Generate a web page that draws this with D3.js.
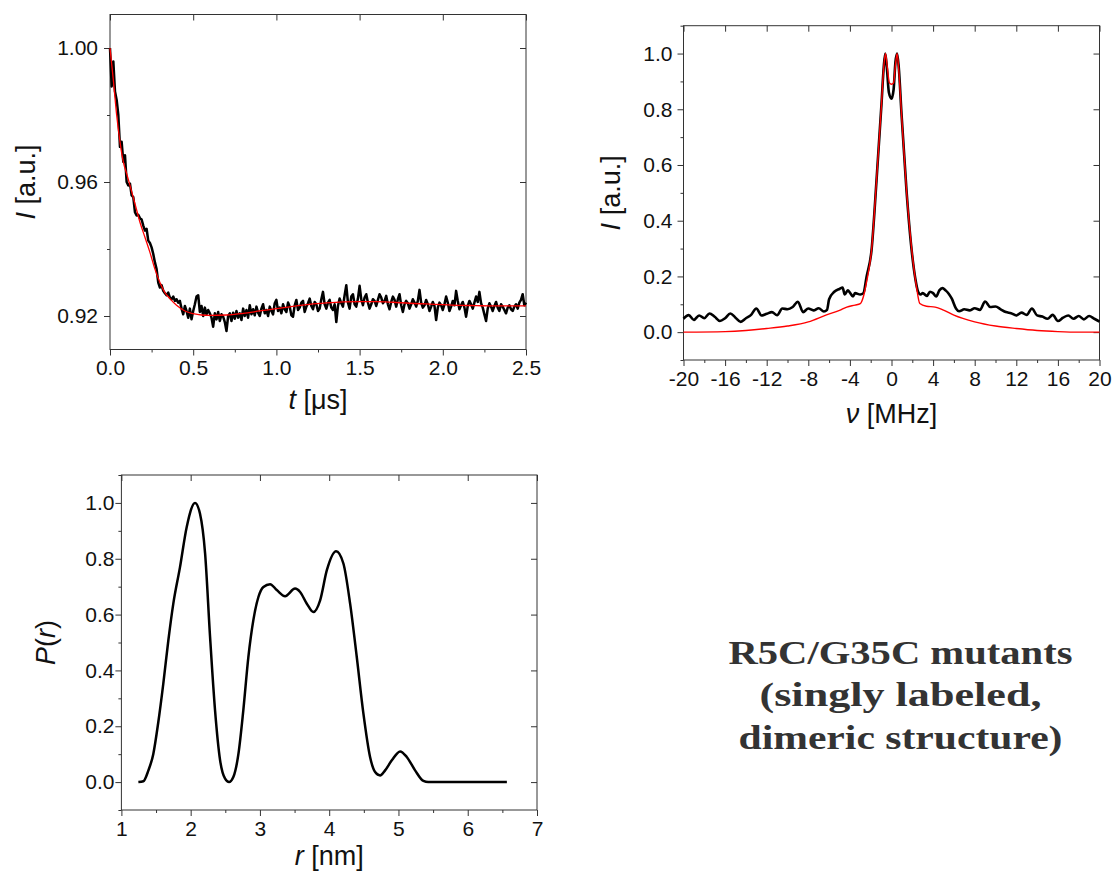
<!DOCTYPE html>
<html>
<head>
<meta charset="utf-8">
<script src="https://cdn.jsdelivr.net/npm/d3@7"></script>
<style>
  body { margin: 0; background: #fff; }
  svg { display: block; font-family: "Liberation Sans", Arial, sans-serif; }
</style>
</head>
<body>
<svg id="chart" width="1115" height="873"></svg>
<script>
// ---- time trace (DEER decay), sampled every 0.01 us from t = 0 ----
const decayStep = 0.01;
const decaySignal = [
  1.0000, 0.9885, 0.9960, 0.9870, 0.9845, 0.9800, 0.9705, 0.9720, 0.9660, 0.9680,
  0.9600, 0.9590, 0.9595, 0.9560, 0.9555, 0.9510, 0.9500, 0.9502, 0.9492, 0.9488,
  0.9470, 0.9455, 0.9460, 0.9425, 0.9418, 0.9405, 0.9385, 0.9360, 0.9340, 0.9300,
  0.9285, 0.9292, 0.9275, 0.9268, 0.9262, 0.9270, 0.9255, 0.9250, 0.9258, 0.9245,
  0.9250, 0.9240, 0.9245, 0.9222, 0.9205, 0.9230, 0.9215, 0.9195, 0.9222, 0.9190,
  0.9215,
  0.9235, 0.9258, 0.9262, 0.9212, 0.9230, 0.9200, 0.9225, 0.9205, 0.9218, 0.9208,
  0.9195, 0.9168, 0.9208, 0.9190, 0.9212, 0.9185, 0.9205, 0.9198, 0.9182, 0.9155,
  0.9200, 0.9208, 0.9185, 0.9210, 0.9192, 0.9215, 0.9195, 0.9208, 0.9188, 0.9222,
  0.9200, 0.9218, 0.9195, 0.9232, 0.9205, 0.9220, 0.9202, 0.9228, 0.9210, 0.9200,
  0.9222, 0.9235, 0.9208, 0.9218, 0.9200, 0.9228, 0.9215, 0.9205, 0.9238, 0.9248,
  0.9215, 0.9225, 0.9208, 0.9235, 0.9220, 0.9212, 0.9240, 0.9228, 0.9202, 0.9198,
  0.9232, 0.9248, 0.9218, 0.9225, 0.9240, 0.9245, 0.9212, 0.9228, 0.9238, 0.9252,
  0.9230, 0.9220, 0.9242, 0.9235, 0.9215, 0.9222, 0.9250, 0.9272, 0.9235, 0.9222,
  0.9240, 0.9248, 0.9225, 0.9218, 0.9235, 0.9182, 0.9230, 0.9252, 0.9238, 0.9228,
  0.9262, 0.9292, 0.9240, 0.9222, 0.9258, 0.9265, 0.9235, 0.9228, 0.9252, 0.9290,
  0.9250, 0.9232, 0.9255, 0.9265, 0.9240, 0.9222, 0.9235, 0.9250, 0.9245, 0.9230,
  0.9248, 0.9265, 0.9255, 0.9238, 0.9245, 0.9260, 0.9235, 0.9220, 0.9242, 0.9258,
  0.9248, 0.9228, 0.9250, 0.9265, 0.9232, 0.9212, 0.9235, 0.9245, 0.9238, 0.9222,
  0.9235, 0.9250, 0.9240, 0.9228, 0.9245, 0.9278, 0.9240, 0.9225, 0.9232, 0.9248,
  0.9235, 0.9215, 0.9228, 0.9242, 0.9230, 0.9188, 0.9225, 0.9240, 0.9232, 0.9218,
  0.9235, 0.9258, 0.9240, 0.9215, 0.9228, 0.9245, 0.9232, 0.9275, 0.9245, 0.9220,
  0.9232, 0.9242, 0.9225, 0.9198, 0.9230, 0.9245, 0.9235, 0.9222, 0.9240, 0.9258,
  0.9242, 0.9272, 0.9238, 0.9225, 0.9205, 0.9185, 0.9222, 0.9238, 0.9228, 0.9215,
  0.9230, 0.9242, 0.9225, 0.9215, 0.9235, 0.9228, 0.9218, 0.9208, 0.9225, 0.9232,
  0.9220, 0.9215, 0.9228, 0.9235, 0.9222, 0.9240, 0.9248, 0.9265, 0.9232, 0.9240
];
const decayFitT = [0, 0.02, 0.04, 0.06, 0.08, 0.10, 0.12, 0.15, 0.18, 0.21, 0.24, 0.27, 0.30, 0.33, 0.36, 0.40,
  0.45, 0.50, 0.55, 0.60, 0.70, 0.80, 0.90, 1.00, 1.10, 1.20, 1.30, 1.40, 1.50, 1.60, 1.70, 1.80,
  1.90, 2.00, 2.10, 2.20, 2.30, 2.40, 2.50];
const decayFitI = [1.000, 0.9905, 0.980, 0.972, 0.966, 0.9625, 0.959, 0.9535, 0.948, 0.9435, 0.939, 0.934,
  0.930, 0.927, 0.9252, 0.9232, 0.9215, 0.9207, 0.9203, 0.9202, 0.9203, 0.9208, 0.9215, 0.9222,
  0.9229, 0.9235, 0.9239, 0.9242, 0.9243, 0.9243, 0.9241, 0.9238, 0.9236, 0.9234, 0.9232, 0.9231,
  0.9230, 0.9230, 0.9230];

// ---- frequency spectrum ----
const specNu = [-20, -19.5, -19, -18.5, -18, -17.5, -17, -16.5, -16, -15.5, -15, -14.5, -14, -13.5, -13,
  -12.5, -12, -11.5, -11, -10.5, -10, -9.5, -9, -8.5, -8, -7.5, -7, -6.5, -6.2, -6, -5.5, -5, -4.7,
  -4.5, -4.2, -4, -3.7, -3.5, -3, -2.7, -2.4, -1.92, -1.44, -0.96, -0.75, -0.6, -0.45, -0.25, 0,
  0.2, 0.38, 0.54, 0.7, 0.96, 1.44, 1.92, 2.3, 2.56, 2.8, 3, 3.4, 3.7, 4, 4.3, 4.6, 4.9, 5.2, 5.5,
  5.8, 6.2, 6.5, 7, 7.5, 8, 8.5, 9, 9.5, 10, 10.5, 11, 11.5, 12, 12.5, 13, 13.5, 14, 14.5, 15,
  15.5, 16, 16.5, 17, 17.5, 18, 18.5, 19, 19.5, 20];
const specI = [0.048, 0.061, 0.044, 0.060, 0.050, 0.067, 0.055, 0.040, 0.050, 0.067, 0.052, 0.037, 0.050,
  0.062, 0.085, 0.060, 0.066, 0.072, 0.061, 0.085, 0.082, 0.090, 0.109, 0.072, 0.085, 0.078, 0.086,
  0.074, 0.080, 0.118, 0.145, 0.155, 0.160, 0.135, 0.150, 0.142, 0.128, 0.140, 0.135, 0.140, 0.198,
  0.294, 0.545, 0.820, 0.950, 1.000, 0.950, 0.860, 0.838, 0.870, 0.970, 1.000, 0.950, 0.785, 0.510,
  0.300, 0.190, 0.145, 0.135, 0.140, 0.130, 0.145, 0.140, 0.128, 0.150, 0.158, 0.150, 0.138, 0.120,
  0.085, 0.075, 0.082, 0.078, 0.086, 0.080, 0.110, 0.090, 0.092, 0.082, 0.072, 0.068, 0.060, 0.070,
  0.062, 0.085, 0.060, 0.056, 0.048, 0.062, 0.040, 0.052, 0.060, 0.048, 0.058, 0.046, 0.058, 0.048,
  0.038];
const specFitNu = [-20, -16, -14, -12, -10, -8, -6.25, -5, -4.3, -3.5, -3, -2.72, -2.4, -1.92, -1.44, -0.96,
  -0.75, -0.58, -0.4, -0.2, 0, 0.2, 0.38, 0.54, 0.7, 0.96, 1.44, 1.92, 2.4, 2.72, 3.36, 4.2, 5, 6,
  8, 10, 12, 14, 16, 18, 20];
const specFitI = [0.0, 0.002, 0.006, 0.013, 0.022, 0.037, 0.062, 0.078, 0.090, 0.097, 0.102, 0.125, 0.180,
  0.294, 0.545, 0.820, 0.950, 1.000, 0.950, 0.895, 0.890, 0.895, 0.960, 1.000, 0.940, 0.785, 0.510,
  0.306, 0.163, 0.103, 0.093, 0.090, 0.079, 0.061, 0.037, 0.022, 0.013, 0.006, 0.002, 0.0, 0.0];

// ---- distance distribution ----
const distR = [1.245, 1.317, 1.39, 1.46, 1.53, 1.605, 1.678, 1.75, 1.846, 1.943, 2.063, 2.135, 2.208, 2.28,
  2.352, 2.425, 2.497, 2.554, 2.616, 2.689, 2.76, 2.833, 2.905, 2.978, 3.05, 3.147, 3.243, 3.363,
  3.508, 3.58, 3.677, 3.772, 3.869, 3.966, 4.10, 4.205, 4.302, 4.398, 4.494, 4.59, 4.663, 4.735,
  4.807, 4.904, 5.024, 5.12, 5.24, 5.36, 5.43, 6.565];
const distP = [0.0, 0.003, 0.042, 0.10, 0.21, 0.353, 0.508, 0.64, 0.77, 0.914, 1.0, 0.961, 0.82, 0.52,
  0.257, 0.078, 0.012, 0.0, 0.018, 0.10, 0.257, 0.448, 0.58, 0.663, 0.699, 0.709, 0.688, 0.666,
  0.693, 0.681, 0.639, 0.609, 0.651, 0.759, 0.827, 0.783, 0.639, 0.448, 0.245, 0.09, 0.036, 0.024,
  0.042, 0.078, 0.11, 0.09, 0.042, 0.004, 0.0, 0.0];

const noteLines = ["R5C/G35C mutants", "(singly labeled,", "dimeric structure)"];

const svg = d3.select("#chart");
const axisColor = "#333";

function addAxis(g, axisFn, scale, values, size, pad, fmt, transform) {
  const a = g.append("g")
    .attr("transform", transform)
    .call(axisFn(scale).tickValues(values).tickSize(size).tickSizeOuter(0)
      .tickPadding(pad).tickFormat(fmt));
  a.select(".domain").remove();
  a.attr("font-size", 21).attr("font-family", null).attr("color", axisColor);
  a.selectAll("text").attr("fill", "#111");
  return a;
}

function drawPanel(cfg) {
  const b = cfg.box;
  const x = d3.scaleLinear().domain(cfg.xDomain).range([b.left, b.right]);
  const y = d3.scaleLinear().domain(cfg.yDomain).range([b.bottom, b.top]);
  const g = svg.append("g");
  const none = () => "";

  // bottom (outward, labelled) + minor
  addAxis(g, d3.axisBottom, x, cfg.xMajor, 6, 5, cfg.xFormat, `translate(0,${b.bottom})`);
  addAxis(g, d3.axisBottom, x, cfg.xMinor, 3, 0, none, `translate(0,${b.bottom})`);
  // top (inward)
  addAxis(g, d3.axisBottom, x, cfg.xMajor, 6, 0, none, `translate(0,${b.top})`);
  // left (outward, labelled) + minor
  addAxis(g, d3.axisLeft, y, cfg.yMajor, 6, cfg.yPad, cfg.yFormat, `translate(${b.left},0)`);
  addAxis(g, d3.axisLeft, y, cfg.yMinor, 3, 0, none, `translate(${b.left},0)`);
  // right (inward)
  addAxis(g, d3.axisLeft, y, cfg.yMajor, 6, 0, none, `translate(${b.right},0)`);

  g.append("rect")
    .attr("x", b.left).attr("y", b.top)
    .attr("width", b.right - b.left).attr("height", b.bottom - b.top)
    .attr("fill", "none").attr("stroke", axisColor).attr("stroke-width", 1);

  cfg.series.forEach((s) => {
    const line = d3.line()
      .x((d) => x(d[0]))
      .y((d) => y(d[1]))
      .curve(s.curve || d3.curveLinear);
    g.append("path")
      .datum(s.data)
      .attr("d", line)
      .attr("fill", "none")
      .attr("stroke", s.color)
      .attr("stroke-width", s.width)
      .attr("stroke-linejoin", "round");
  });

  // x title
  const xt = g.append("text")
    .attr("x", (b.left + b.right) / 2)
    .attr("y", cfg.xTitleY)
    .attr("text-anchor", "middle")
    .attr("font-size", 27)
    .attr("fill", "#111");
  cfg.xTitle.forEach((p) => xt.append("tspan").attr("font-style", p[1] ? "italic" : null).text(p[0]));

  // y title
  const cy = (b.top + b.bottom) / 2;
  const yt = g.append("text")
    .attr("transform", `translate(${cfg.yTitleX},${cy}) rotate(-90)`)
    .attr("text-anchor", "middle")
    .attr("font-size", 27)
    .attr("fill", "#111");
  cfg.yTitle.forEach((p) => yt.append("tspan").attr("font-style", p[1] ? "italic" : null).text(p[0]));
}

const zip = (a, b) => a.map((v, i) => [v, b[i]]);
const plain = (d) => String(d);

// top-left: time domain
drawPanel({
  box: { left: 110, right: 526, top: 14.5, bottom: 349.5 },
  xDomain: [0, 2.5], yDomain: [0.91, 1.01],
  xMajor: [0, 0.5, 1, 1.5, 2, 2.5], xMinor: [0.25, 0.75, 1.25, 1.75, 2.25],
  yMajor: [0.92, 0.96, 1.0], yMinor: [0.94, 0.98],
  xFormat: d3.format(".1f"), yFormat: d3.format(".2f"), yPad: 6,
  xTitle: [["t", true], [" [\u03bcs]", false]], xTitleY: 409,
  yTitle: [["I", true], [" [a.u.]", false]], yTitleX: 35,
  series: [
    { data: decaySignal.map((v, i) => [i * decayStep, v]), color: "#000", width: 2.5 },
    { data: zip(decayFitT, decayFitI), color: "#ff0000", width: 1.3, curve: d3.curveMonotoneX }
  ]
});

// top-right: spectrum
drawPanel({
  box: { left: 683.5, right: 1099.5, top: 25.7, bottom: 360 },
  xDomain: [-20, 20], yDomain: [-0.1, 1.1],
  xMajor: d3.range(-20, 21, 4), xMinor: d3.range(-18, 19, 4),
  xFormat: plain, yFormat: d3.format(".1f"), yPad: 5,
  yMajor: [0, 0.2, 0.4, 0.6, 0.8, 1.0], yMinor: [-0.1, 0.1, 0.3, 0.5, 0.7, 0.9, 1.1],
  xTitle: [["\u03bd", true], [" [MHz]", false]], xTitleY: 423,
  yTitle: [["I", true], [" [a.u.]", false]], yTitleX: 620,
  series: [
    { data: zip(specNu, specI), color: "#000", width: 2.6, curve: d3.curveMonotoneX },
    { data: zip(specFitNu, specFitI), color: "#ff0000", width: 1.4, curve: d3.curveMonotoneX }
  ]
});

// bottom-left: distance distribution
drawPanel({
  box: { left: 121.4, right: 537, top: 475, bottom: 810 },
  xDomain: [1, 7], yDomain: [-0.1, 1.1],
  xMajor: [1, 2, 3, 4, 5, 6, 7], xMinor: [1.5, 2.5, 3.5, 4.5, 5.5, 6.5],
  yMajor: [0, 0.2, 0.4, 0.6, 0.8, 1.0], yMinor: [-0.1, 0.1, 0.3, 0.5, 0.7, 0.9, 1.1],
  xFormat: plain, yFormat: d3.format(".1f"), yPad: 1,
  xTitle: [["r", true], [" [nm]", false]], xTitleY: 865,
  yTitle: [["P", true], ["(", false], ["r", true], [")", false]], yTitleX: 55,
  series: [
    { data: zip(distR, distP), color: "#000", width: 2.5, curve: d3.curveMonotoneX }
  ]
});

// annotation block
const noteBaselines = [663.5, 706, 748.5];
const noteWidths = [344, 282, 324];
svg.append("g")
  .selectAll("text")
  .data(noteLines)
  .join("text")
  .attr("x", 900.5)
  .attr("y", (d, i) => noteBaselines[i])
  .attr("text-anchor", "middle")
  .attr("font-family", "'Liberation Serif', 'Times New Roman', serif")
  .attr("font-weight", "bold")
  .attr("font-size", 33)
  .attr("fill", "#333")
  .attr("textLength", (d, i) => noteWidths[i])
  .attr("lengthAdjust", "spacingAndGlyphs")
  .text((d) => d);
</script>
</body>
</html>
